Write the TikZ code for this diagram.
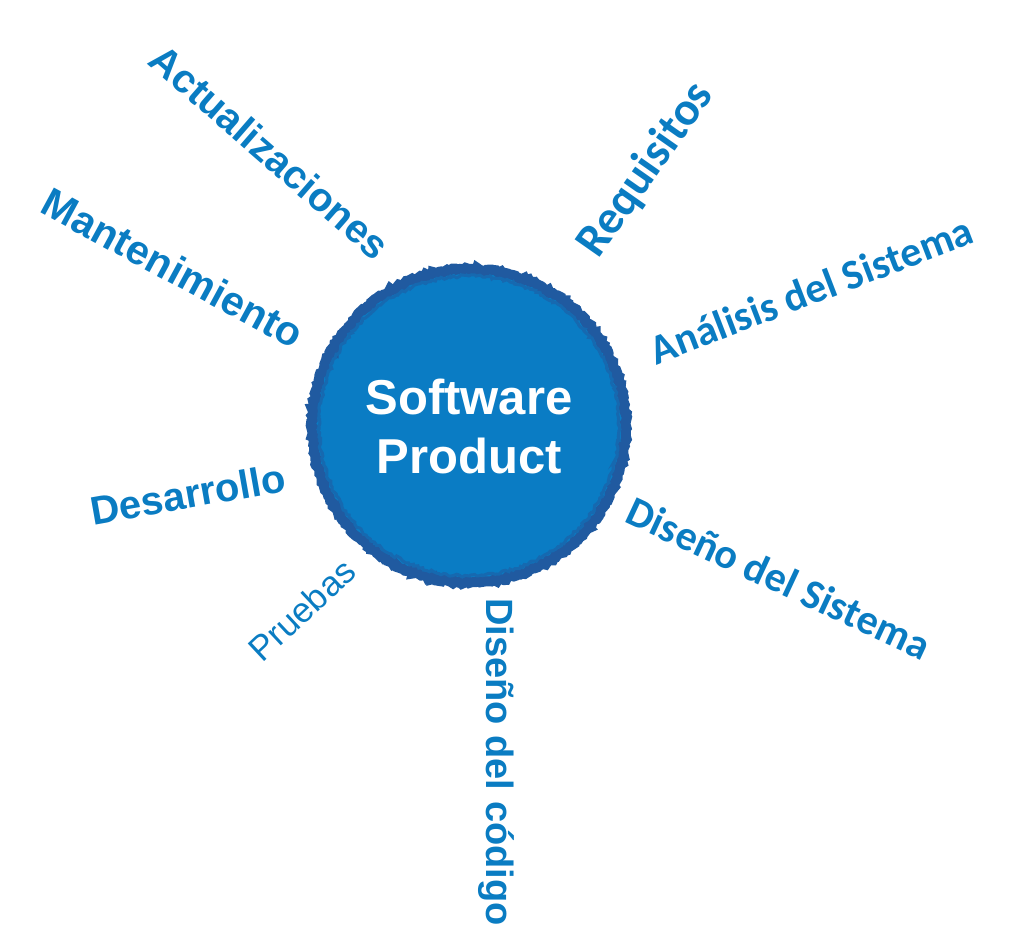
\documentclass[tikz,border=0pt]{standalone}
\usepackage{fontspec}
\setmainfont{Liberation Sans}
\newfontfamily\calibri{Carlito}
\usetikzlibrary{decorations.pathmorphing}
\definecolor{lblue}{RGB}{10,124,194}
\definecolor{cfill}{RGB}{10,124,196}
\definecolor{cborder}{RGB}{32,90,160}
\tikzset{
  arl/.style={text=lblue, inner sep=0pt, font=\bfseries\fontsize{40}{48}\selectfont},
  arlreg/.style={text=lblue, inner sep=0pt, font=\fontsize{35}{42}\selectfont},
  cal/.style={text=lblue, inner sep=0pt, font=\calibri\bfseries\fontsize{42}{50}\selectfont},
  rough/.style={decorate, decoration={random steps, segment length=2.5pt, amplitude=1.4pt}},
  core/.style={circle, fill=cfill, draw=cborder, line width=10pt, minimum size=314pt,
    inner sep=0pt, align=center, text=white,
    font=\bfseries\fontsize{49}{59}\selectfont, rough}
}
\begin{document}
\begin{tikzpicture}[x=1pt,y=1pt]
\useasboundingbox (0,0) rectangle (1013,948);
\node[core] (sp) at (469,522) {Software\\Product};
\draw[cborder!55!cfill, line width=3pt, rough] (sp.center) circle[radius=150pt];
\node[arl, rotate=-41] (act) at (270,796) {Actualizaciones};
\node[arl, rotate=-28.5, font=\bfseries\fontsize{41}{49}\selectfont] (man) at (173,680) {Mantenimiento};
\node[arl, rotate=10] (des) at (188,454) {Desarrollo};
\node[arlreg, rotate=43] (pru) at (302,338) {Pruebas};
\node[cal, rotate=55, font=\calibri\bfseries\fontsize{47}{56}\selectfont] (req) at (646,778) {Requisitos};
\node[cal, rotate=21] (ana) at (811,658) {Análisis del Sistema};
\node[cal, rotate=-25] (dsi) at (779,370) {Diseño del Sistema};
\node[arl, rotate=-90, font=\bfseries\fontsize{38}{46}\selectfont] (dco) at (496,186) {Diseño del código};
\end{tikzpicture}
\end{document}
